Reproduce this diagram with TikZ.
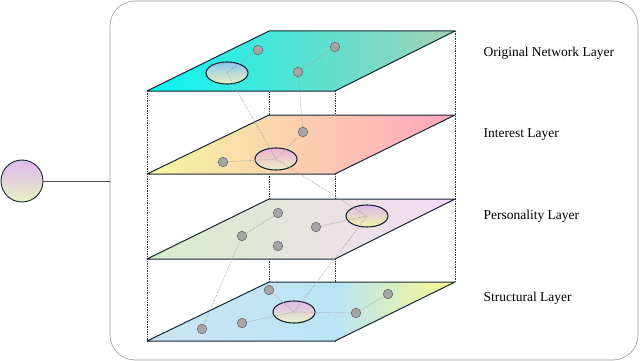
\documentclass[tikz,border=0pt]{standalone}
\usepackage{fontspec}
\setmainfont{Liberation Serif}
\usepackage{tikz}
\usetikzlibrary{positioning,shapes.geometric}
\definecolor{edgeink}{RGB}{22,38,52}
\definecolor{dotfill}{RGB}{166,166,166}
\definecolor{dotedge}{RGB}{105,105,105}
\definecolor{linkgray}{RGB}{165,165,165}
\definecolor{cyanL}{RGB}{8,245,242}
\definecolor{cyanR}{RGB}{162,208,180}
\definecolor{yellowL}{RGB}{246,246,160}
\definecolor{pinkR}{RGB}{255,166,190}
\definecolor{greenL}{RGB}{214,236,200}
\definecolor{lilacR}{RGB}{246,220,246}
\definecolor{blueL}{RGB}{204,228,245}
\definecolor{blueM}{RGB}{186,228,245}
\definecolor{yellowR}{RGB}{244,246,150}
\definecolor{skytop}{RGB}{140,196,238}
\definecolor{lavtop}{RGB}{222,184,238}
\definecolor{limebot}{RGB}{232,242,196}
\pgfdeclarehorizontalshading{structshade}{100bp}{color(0bp)=(blueL); color(25bp)=(blueL);
  color(56bp)=(blueM); color(73bp)=(yellowR); color(100bp)=(yellowR)}

\begin{document}
\begin{tikzpicture}[x=1pt, y=-1pt,
  layer/.style={draw=edgeink, line width=1pt, line join=round},
  dot/.style={circle, draw=dotedge, fill=dotfill, line width=0.6pt, inner sep=0pt, minimum size=9.5pt},
  blob/.style={ellipse, draw=edgeink, line width=1.1pt, inner sep=0pt, minimum width=42pt, minimum height=22pt},
  link/.style={draw=linkgray, densely dotted, line width=0.7pt},
  pillar/.style={draw=black!80, densely dotted, line width=0.7pt},
  tag/.style={anchor=west, font=\fontsize{13.5}{16}\selectfont}]
\useasboundingbox (0,0) rectangle (640,361);
% outer frame
\draw[black!40, line width=0.6pt, rounded corners=25pt] (110,1) rectangle (638,360);
% source node
\node[circle, draw=edgeink, line width=0.9pt, minimum size=42pt, top color=lavtop, bottom color=limebot] (src) at (22,181) {};
\coordinate (hub) at (110,181);
\draw[black!70, line width=1pt] (src) -- (hub);
% wire frame behind the planes
\draw[pillar] (147,91) -- (147,341);
\draw[pillar] (335,91) -- (335,341);
\draw[pillar] (269,31) -- (269,282);
\draw[pillar] (455,31) -- (455,282);
% planes
\draw[layer, left color=cyanL, right color=cyanR] (147,91) -- (269,31) -- (455,31) -- (335,91) -- cycle;
\draw[layer, left color=yellowL, middle color=pinkR!45!yellowL, right color=pinkR] (147,174) -- (269,115) -- (455,115) -- (335,174) -- cycle;
\draw[layer, left color=greenL, middle color=greenL!45!lilacR, right color=lilacR] (147,259) -- (269,199) -- (455,199) -- (335,259) -- cycle;
\draw[layer, shading=structshade] (147,341) -- (269,282) -- (455,282) -- (335,341) -- cycle;
% original network layer
\node[blob, top color=skytop, bottom color=limebot] (e1) at (227,73) {};
\node[dot] (a1) at (258,50) {};
\node[dot] (b1) at (298,72) {};
\node[dot] (c1) at (335,47) {};
% interest layer
\node[blob, top color=pinkR!60!lavtop, bottom color=limebot] (e2) at (276,159) {};
\node[dot] (a2) at (223,162) {};
\node[dot] (b2) at (303,132) {};
% personality layer
\node[blob, top color=lavtop, bottom color=yellowR!70!limebot] (e3) at (367,216) {};
\node[dot] (a3) at (278,213) {};
\node[dot] (b3) at (242,236) {};
\node[dot] (c3) at (316,227) {};
\node[dot] (d3) at (278,246) {};
% structural layer
\node[blob, top color=lavtop, bottom color=limebot] (e4) at (294,312) {};
\node[dot] (a4) at (269,290) {};
\node[dot] (b4) at (202,329) {};
\node[dot] (c4) at (242,323) {};
\node[dot] (d4) at (356,313) {};
\node[dot] (f4) at (388,294) {};
% links
\draw[link] (e1.center) -- (a1);
\draw[link] (b1) -- (c1);
\draw[link] (b1) -- (b2);
\draw[link] (e1.center) -- (e2.center);
\draw[link] (a2) -- (e2.center);
\draw[link] (b2) -- (e2.center);
\draw[link] (e2.center) -- (e3.center);
\draw[link] (a3) -- (b3);
\draw[link] (c3) -- (e3.center);
\draw[link] (b3) -- (b4);
\draw[link] (e3.center) -- (e4.center);
\draw[link] (a4) -- (e4.center);
\draw[link] (c4) -- (e4.center);
\draw[link] (e4.center) -- (d4);
\draw[link] (d4) -- (f4);
% layer names
\node[tag] (t1) at (480,53) {Original Network Layer};
\node[tag] (t2) at (480,135) {Interest Layer};
\node[tag] (t3) at (480,216) {Personality Layer};
\node[tag] (t4) at (480,298) {Structural Layer};
\end{tikzpicture}
\end{document}
